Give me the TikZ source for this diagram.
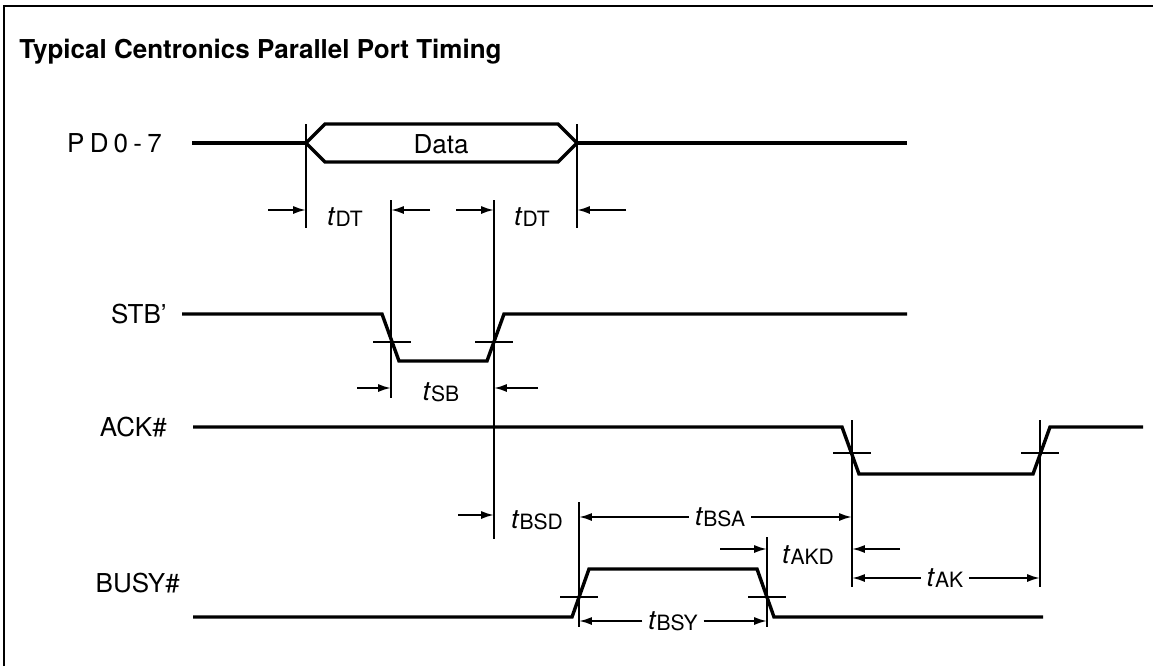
\documentclass[tikz,border=0pt]{standalone}
\usepackage{fontspec}
\setmainfont{TeX Gyre Heros}
\usepackage{tikz}
\usetikzlibrary{arrows.meta}

\newcommand{\tdly}[1]{\textit{t}{\fontsize{15}{15}\selectfont\raisebox{-1pt}{#1}}}

\tikzset{
  signal/.style={line width=0.85mm, line join=miter},
  guide/.style={line width=0.5mm},
  tickmark/.style={line width=0.45mm},
  dimarrow/.style={-{Latex[length=3.2mm,width=2mm]}, line width=0.5mm},
  siglabel/.style={font=\fontsize{18.5}{18.5}\selectfont, anchor=east, inner sep=0pt},
  dlylabel/.style={font=\fontsize{19}{19}\selectfont, inner sep=4pt},
}

\begin{document}
\begin{tikzpicture}[x=0.25mm, y=-0.25mm]
  \useasboundingbox (0,0) rectangle (1153,666);

  % Frame and title
  \draw[guide] (4,666) -- (4,6) -- (1153,6);
  \node[anchor=base west, inner sep=0pt, font=\fontsize{18.5}{18.5}\selectfont\bfseries] (title) at (19,58)
    {Typical Centronics Parallel Port Timing};

  % Signal names
  \node[siglabel] (pd)   at (162,143) {\addfontfeature{LetterSpace=20}PD0-7};
  \node[siglabel] (stb)  at (167,314) {STB'};
  \node[siglabel] (ack)  at (167,427) {ACK\#};
  \node[siglabel] (busy) at (180,583) {BUSY\#};

  % Waveforms
  \draw[signal] (192,143) -- (306,143) (577,143) -- (907,143);
  \draw[signal] (306,143) -- (325,124) -- (558,124) -- (577,143) -- (558,162) -- (325,162) -- cycle;
  \node[font=\fontsize{18.5}{18.5}\selectfont] (data) at (441,144) {Data};
  \draw[signal] (182,314) -- (382,314) -- (399,361) -- (487,361) -- (504,314) -- (907,314);
  \draw[signal] (193,427) -- (842,427) -- (859,474) -- (1033,474) -- (1050,427) -- (1143,427);
  \draw[signal] (193,617) -- (572,617) -- (589,569) -- (757,569) -- (774,617) -- (1043,617);

  % Threshold ticks
  \foreach \x/\y in {392/342, 494/342, 852/453, 1040/453, 579/597, 767/597}
    \draw[tickmark] (\x-19,\y) -- (\x+19,\y);

  % Guide lines
  \foreach \g/\x/\ya/\yb in {gPDa/306/124/228, gPDb/577/124/228, gSTa/391/200/398, gSTb/494/200/539,
                             gBYa/579/502/627, gBYb/767/537/627, gAKa/852/420/587, gAKb/1040/420/587}{
    \coordinate (\g) at (\x,\ya);
    \coordinate (\g-end) at (\x,\yb);
    \draw[guide] (\g) -- (\g-end);
  }

  % Delay labels
  \node[dlylabel] (tdt1) at (345,217) {\tdly{DT}};
  \node[dlylabel] (tdt2) at (532,217) {\tdly{DT}};
  \node[dlylabel] (tsb)  at (441,392) {\tdly{SB}};
  \node[dlylabel] (tbsd) at (537,520) {\tdly{BSD}};
  \node[dlylabel] (tbsa) at (720,517) {\tdly{BSA}};
  \node[dlylabel] (takd) at (808,555) {\tdly{AKD}};
  \node[dlylabel] (tak)  at (945,578) {\tdly{AK}};
  \node[dlylabel] (tbsy) at (673,621) {\tdly{BSY}};

  % Arrows from outside
  \foreach \n/\x/\y/\g in {a1/268/210/gPDa, a2/430/210/gSTa, a3/456/210/gSTb, a4/626/210/gPDb,
                           a5/357/388/gSTa, a6/538/388/gSTb, a7/458/515/gSTb,
                           a8/720/549/gBYb, a9/900/549/gAKa}{
    \coordinate (\n) at (\x,\y);
    \draw[dimarrow] (\n) -- (\n -| \g);
  }

  % Arrows from labels
  \draw[dimarrow] (tbsa.west) -- (tbsa.west -| gBYa);
  \draw[dimarrow] (tbsa.east) -- (tbsa.east -| gAKa);
  \draw[dimarrow] (tak.west)  -- (tak.west -| gAKa);
  \draw[dimarrow] (tak.east)  -- (tak.east -| gAKb);
  \draw[dimarrow] (tbsy.west) -- (tbsy.west -| gBYa);
  \draw[dimarrow] (tbsy.east) -- (tbsy.east -| gBYb);

\end{tikzpicture}
\end{document}
